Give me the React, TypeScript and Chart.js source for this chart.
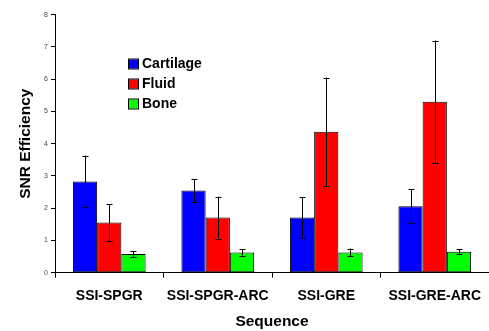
import React, { useEffect, useRef } from "react";
import { Chart, registerables } from "chart.js";

Chart.register(...registerables);

const categories = ["SSI-SPGR", "SSI-SPGR-ARC", "SSI-GRE", "SSI-GRE-ARC"];
const seriesNames = ["Cartilage", "Fluid", "Bone"];
const cartilage = [2.83, 2.55, 1.71, 2.06];
const cartilageErr = [0.8, 0.35, 0.63, 0.52];
const fluid = [1.56, 1.71, 4.37, 5.3];
const fluidErr = [0.57, 0.65, 1.68, 1.9];
const bone = [0.58, 0.63, 0.63, 0.65];
const boneErr = [0.09, 0.1, 0.12, 0.07];
const yTicks = [0, 1, 2, 3, 4, 5, 6, 7, 8];

const FONT = "'Liberation Sans', Arial, Helvetica, sans-serif";

const errorBarPlugin = {
  id: "errorBars",
  afterDatasetsDraw(chart: any) {
    const ctx = chart.ctx;
    const yScale = chart.scales.y;
    ctx.save();
    ctx.strokeStyle = "#000";
    ctx.lineWidth = 1;
    chart.data.datasets.forEach((ds: any, di: number) => {
      const meta = chart.getDatasetMeta(di);
      meta.data.forEach((el: any, i: number) => {
        const v = ds.data[i];
        const e = ds.errors[i];
        const x = Math.round(el.x) + 0.5;
        const yTop = yScale.getPixelForValue(v + e);
        const yBot = yScale.getPixelForValue(v - e);
        ctx.beginPath();
        ctx.moveTo(x, yTop);
        ctx.lineTo(x, yBot);
        ctx.moveTo(x - 3, Math.round(yTop) + 0.5);
        ctx.lineTo(x + 3, Math.round(yTop) + 0.5);
        ctx.moveTo(x - 3, Math.round(yBot) + 0.5);
        ctx.lineTo(x + 3, Math.round(yBot) + 0.5);
        ctx.stroke();
      });
    });
    ctx.restore();
  },
};

const legendPlugin = {
  id: "innerLegend",
  afterDraw(chart: any) {
    const ctx = chart.ctx;
    ctx.save();
    ctx.font = `bold 14px ${FONT}`;
    ctx.textBaseline = "middle";
    ctx.textAlign = "left";
    chart.data.datasets.forEach((ds: any, i: number) => {
      const cy = 64 + i * 20;
      ctx.fillStyle = ds.backgroundColor;
      ctx.fillRect(129, cy - 4.5, 9, 9);
      ctx.strokeStyle = "#000";
      ctx.lineWidth = 1;
      ctx.strokeRect(128.5, cy - 5, 10, 10);
      ctx.fillStyle = "#000";
      ctx.fillText(ds.label, 142, cy + 0.5);
    });
    ctx.restore();
  },
};

export default function App() {
  const ref = useRef<HTMLCanvasElement | null>(null);
  useEffect(() => {
    if (!ref.current) return;
    const mk = (label: string, data: number[], errors: number[], color: string) => ({
      label,
      data,
      errors,
      backgroundColor: color,
      borderColor: "#000",
      borderWidth: 1,
      borderSkipped: false,
      categoryPercentage: 0.67,
      barPercentage: 1,
    });
    const chart = new Chart(ref.current, {
      type: "bar",
      data: {
        labels: categories,
        datasets: [
          mk(seriesNames[0], cartilage, cartilageErr, "#0000FF"),
          mk(seriesNames[1], fluid, fluidErr, "#FF0000"),
          mk(seriesNames[2], bone, boneErr, "#00FF00"),
        ] as any,
      },
      options: {
        responsive: false,
        animation: false,
        layout: { padding: { top: 14.7, left: 0, right: 0, bottom: 0 } },
        plugins: { legend: { display: false }, tooltip: { enabled: false } },
        scales: {
          x: {
            type: "category",
            offset: true,
            grid: {
              offset: true,
              drawOnChartArea: false,
              drawTicks: true,
              tickLength: 5,
              color: "#000",
            },
            border: { color: "#000", width: 1 },
            ticks: {
              color: "#000",
              font: { family: FONT, size: 14, weight: "bold" },
              padding: 10,
              maxRotation: 0,
              autoSkip: false,
            },
            title: {
              display: true,
              text: "Sequence",
              color: "#000",
              font: { family: FONT, size: 15.5, weight: "bold" },
              padding: { top: 0, bottom: 0 },
            },
            afterFit: (s: any) => {
              s.height = 58.3;
              s.paddingLeft = 0;
              s.paddingRight = 0;
            },
          },
          y: {
            min: 0,
            max: 8,
            afterBuildTicks: (s: any) => {
              s.ticks = yTicks.map((v) => ({ value: v }));
            },
            grid: {
              drawOnChartArea: false,
              drawTicks: true,
              tickLength: 4,
              color: "#000",
            },
            border: { color: "#000", width: 1 },
            ticks: {
              color: "#444",
              font: { family: FONT, size: 7 },
              padding: 3,
            },
            title: {
              display: true,
              text: "SNR Efficiency",
              color: "#000",
              font: { family: FONT, size: 15.5, weight: "bold" },
              padding: { top: 16, bottom: 0 },
            },
            afterFit: (s: any) => {
              s.width = 55;
            },
          },
        },
      },
      plugins: [errorBarPlugin, legendPlugin],
    } as any);
    return () => chart.destroy();
  }, []);
  return (
    <div style={{ position: "fixed", left: 0, top: 0, width: 489, height: 331, background: "#fff" }}>
      <canvas ref={ref} width={489} height={331} />
    </div>
  );
}
